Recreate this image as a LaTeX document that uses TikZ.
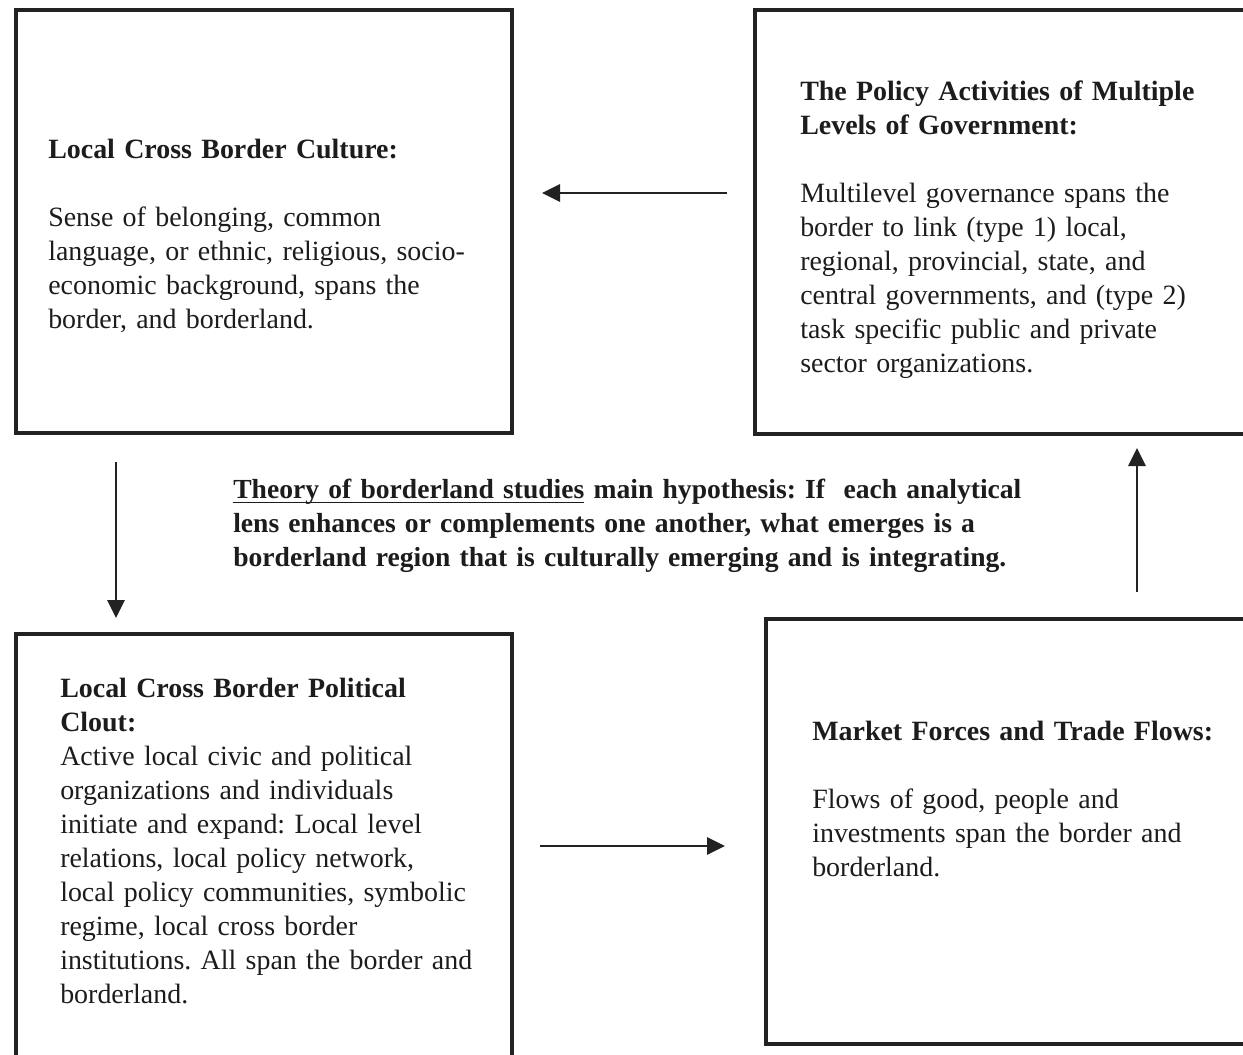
\documentclass[tikz,border=0pt]{standalone}
\usepackage{fontspec}
\setmainfont{Liberation Serif}
\usetikzlibrary{fit,arrows.meta}
\definecolor{ink}{RGB}{28,28,28}
\definecolor{framec}{RGB}{34,34,34}
\newcommand\ulbox[1]{\setbox0\hbox{#1}\rlap{\rule[-4pt]{\wd0}{1.3pt}}\box0\relax}
\begin{document}
\frenchspacing
\begin{tikzpicture}[x=0.75pt,y=-0.75pt,
  frame/.style={draw=framec,line width=3pt,inner sep=0pt},
  txt/.style={anchor=base west,inner sep=0pt,text width=#1,align=left,text=ink,
    font=\fontsize{20.95pt}{25.5pt}\selectfont},
  arr/.style={draw=framec,line width=1.5pt,-{Triangle[length=13.5pt,width=13pt]}}]
\useasboundingbox (0,0) rectangle (1243,1054);
\clip (0,0) rectangle (1243,1054);
% boxes
\node[frame,fit={(16,10) (512,433)}] (tl) {};
\node[frame,fit={(755,10) (1262,434)}] (tr) {};
\node[frame,fit={(16,634) (512,1075)}] (bl) {};
\node[frame,fit={(766,619) (1262,1044)}] (br) {};
% texts
\node[txt=360pt] (tltext) at (48,158) {\textbf{Local Cross Border Culture:}\\[25.5pt]
Sense of belonging, common\\
language, or ethnic, religious, socio-\\
economic background, spans the\\
border, and borderland.};
\node[txt=340pt] (trtext) at (800,100) {\textbf{The Policy Activities of Multiple}\\
\textbf{Levels of Government:}\\[25.5pt]
Multilevel governance spans the\\
border to link (type 1) local,\\
regional, provincial, state, and\\
central governments, and (type 2)\\
task specific public and private\\
sector organizations.};
\node[txt=360pt] (bltext) at (60,697) {\textbf{Local Cross Border Political}\\
\textbf{Clout:}\\
Active local civic and political\\
organizations and individuals\\
initiate and expand: Local level\\
relations, local policy network,\\
local policy communities, symbolic\\
regime, local cross border\\
institutions. All span the border and\\
borderland.};
\node[txt=340pt] (brtext) at (812,740) {\textbf{Market Forces and Trade Flows:}\\[25.5pt]
Flows of good, people and\\
investments span the border and\\
borderland.};
\node[txt=640pt,font=\fontsize{20.7pt}{25.5pt}\selectfont\bfseries] (hyp) at (233,498) {\ulbox{Theory of borderland studies} main hypothesis: If\ \ each analytical\\
lens enhances or complements one another, what emerges is a\\
borderland region that is culturally emerging and is integrating.};
% arrow end points
\coordinate (a1s) at (727,193);
\coordinate (a1e) at (542,193);
\coordinate (a2s) at (116,462);
\coordinate (a2e) at (116,618);
\coordinate (a3s) at (540,846);
\coordinate (a3e) at (725,846);
\coordinate (a4s) at (1137,592);
\coordinate (a4e) at (1137,448);
\draw[arr] (a1s) -- (a1e);
\draw[arr] (a2s) -- (a2e);
\draw[arr] (a3s) -- (a3e);
\draw[arr] (a4s) -- (a4e);
\end{tikzpicture}
\end{document}
